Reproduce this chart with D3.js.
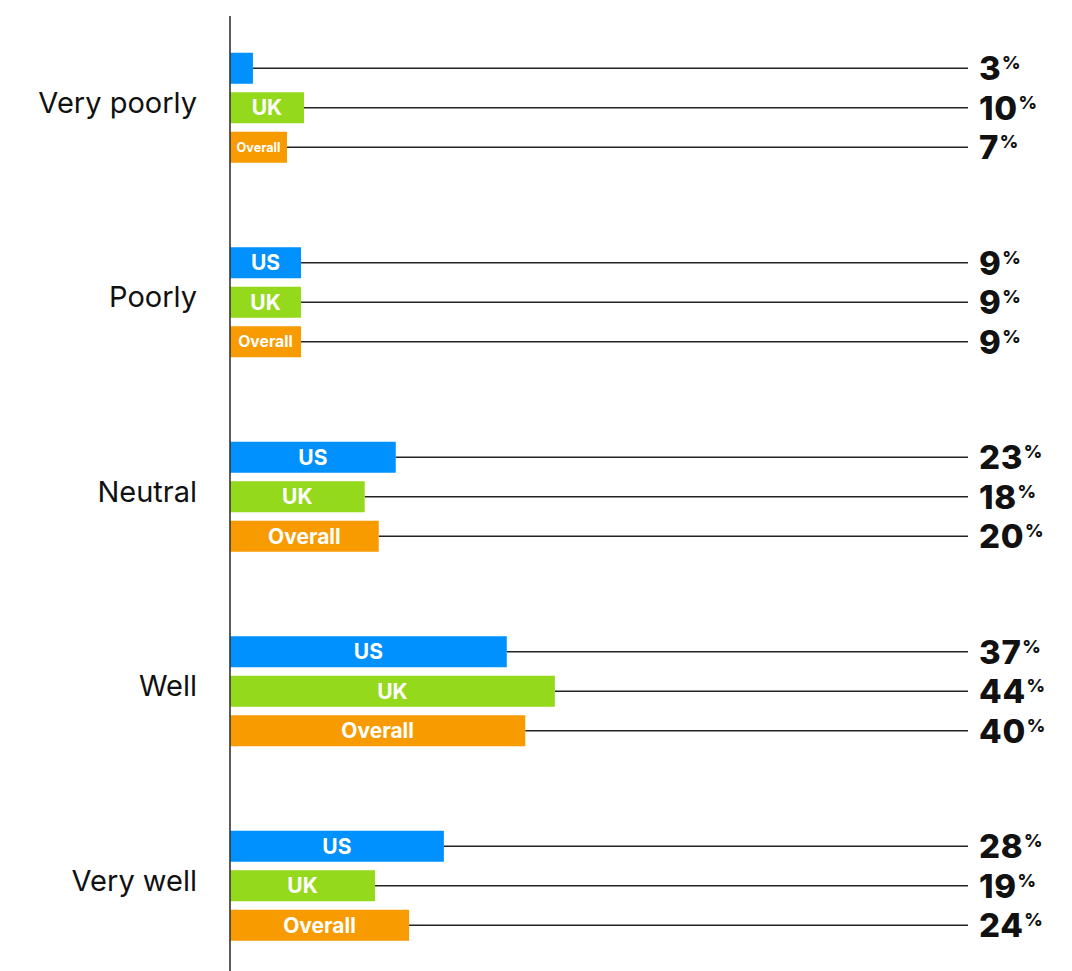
<!DOCTYPE html>
<html>
<head>
<meta charset="utf-8">
<script src="https://cdn.jsdelivr.net/npm/d3@7"></script>
<style>
  html, body { margin: 0; padding: 0; background: #fff; }
  svg { display: block; }
</style>
</head>
<body>
<svg id="chart" width="1072" height="971"></svg>
<script>
const categories = ["Very poorly", "Poorly", "Neutral", "Well", "Very well"];
const seriesNames = ["US", "UK", "Overall"];
// estimated shares (%)
const usValues = [3.1, 9.6, 22.4, 37.4, 28.9];
const ukValues = [10.0, 9.6, 18.2, 43.9, 19.6];
const overallValues = [7.7, 9.6, 20.1, 39.9, 24.2];
// printed value labels
const usLabels = [3, 9, 23, 37, 28];
const ukLabels = [10, 9, 18, 44, 19];
const overallLabels = [7, 9, 20, 40, 24];

const colors = { US: "#0091ff", UK: "#94d91b", Overall: "#f89b00" };
const valuesBySeries = { US: usValues, UK: ukValues, Overall: overallValues };
const labelsBySeries = { US: usLabels, UK: ukLabels, Overall: overallLabels };

const data = [];
categories.forEach((c, i) => {
  seriesNames.forEach(s => {
    data.push({ category: c, series: s, value: valuesBySeries[s][i], label: labelsBySeries[s][i] });
  });
});

const svg = d3.select("#chart");
const x = d3.scaleLinear().domain([0, 100]).range([230, 970]);
const y = d3.scaleBand().domain(categories).range([10.5, 983]);
const inner = d3.scaleBand().domain(seriesNames).range([-55, 55]).paddingInner(0.215);
const center = c => y(c) + y.bandwidth() / 2;
const barTop = d => center(d.category) + inner(d.series);
const barMid = d => barTop(d) + inner.bandwidth() / 2;
const FONT = "Inter, 'Noto Sans', sans-serif";

// leader lines
svg.append("g").selectAll("line").data(data).join("line")
  .attr("x1", d => x(d.value)).attr("x2", 968)
  .attr("y1", d => barMid(d)).attr("y2", d => barMid(d))
  .attr("stroke", "#222").attr("stroke-width", 1.4);

// bars
svg.append("g").selectAll("rect").data(data).join("rect")
  .attr("x", x(0)).attr("y", d => barTop(d))
  .attr("width", d => x(d.value) - x(0))
  .attr("height", inner.bandwidth())
  .attr("fill", d => colors[d.series]);

// bar labels
const MAXFS = 21;
const bl = svg.append("g").selectAll("text").data(data.filter(d => x(d.value) - x(0) >= 30)).join("text")
  .attr("x", d => (x(0) + x(d.value)) / 2)
  .attr("y", d => barMid(d))
  .attr("text-anchor", "middle")
  .attr("font-family", FONT).attr("font-weight", 700)
  .attr("fill", "#fff")
  .attr("font-size", MAXFS)
  .text(d => d.series);
bl.each(function(d) {
  const w = this.getComputedTextLength();
  const barW = x(d.value) - x(0);
  const fs = Math.min(MAXFS, MAXFS * 0.77 * barW / w);
  d3.select(this).attr("font-size", fs).attr("dy", (0.727 * fs / 2) + "px");
});

// value labels
const vl = svg.append("g").selectAll("text").data(data).join("text")
  .attr("x", 979)
  .attr("y", d => barMid(d) + 11.8)
  .attr("font-family", FONT).attr("font-weight", 800)
  .attr("fill", "#111");
vl.append("tspan").attr("font-size", 33).attr("letter-spacing", "0.8px").text(d => d.label);
vl.append("tspan").attr("font-size", 18).attr("dx", 0.5).attr("dy", -10.8).text("%");

// category labels
svg.append("g").selectAll("text").data(categories).join("text")
  .attr("x", 197).attr("y", d => center(d) + 5)
  .attr("text-anchor", "end")
  .attr("font-family", FONT).attr("font-size", 29)
  .attr("fill", "#111")
  .text(d => d);

// axis line
svg.append("line")
  .attr("x1", x(0)).attr("x2", x(0)).attr("y1", 16).attr("y2", 971)
  .attr("stroke", "#333").attr("stroke-width", 1.6);
</script>
</body>
</html>
